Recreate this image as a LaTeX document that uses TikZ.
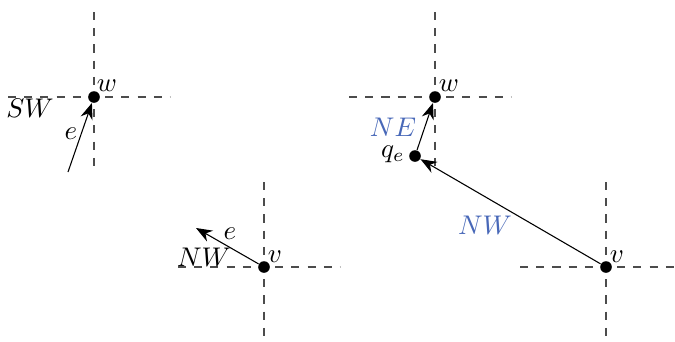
\documentclass[tikz,border=0pt]{standalone}
\usepackage{xcolor}
\usepackage{tikz}
\usetikzlibrary{arrows.meta, calc}
\usepackage{amsmath, amssymb}
\definecolor{dirblue}{RGB}{72,104,184}

\begin{document}
\begin{tikzpicture}[x=0.3704pt, y=-0.3704pt,
	dot/.style={circle, fill=black, inner sep=0pt, minimum size=4.3pt},
	cross/.style={black!70, dashed},
	edge/.style={-{Stealth[length=6pt, width=4.6pt]}},
	dirlabel/.style={text=dirblue}]
	\useasboundingbox (0,0) rectangle (675,341);
	
	% Dashed quadrant lines through every vertex
	\foreach \px/\py in {94/97, 264/267, 435/97, 606/267} {
		\draw[cross] (\px,\py-85) -- (\px,\py+75);
		\draw[cross] (\px-86,\py) -- (\px+76,\py);
	}
	
	% Left part: w with e coming in from SW, v with e leaving towards NW
	\node[dot] (w1) at (94,97) {};
	\node[dot] (v1) at (264,267) {};
	\coordinate (e1start) at (68,172);
	\coordinate (e2end) at (196,228);
	\draw[edge] (e1start) -- (w1);
	\draw[edge] (v1) -- (e2end);
	
	\node (w1lab) at (107,86) {$w$};
	\node (v1lab) at (275,257) {$v$};
	\node (e1lab) at (71,134) {$e$};
	\node (e2lab) at (230,234) {$e$};
	\node (swlab) at (30,108) {$SW$};
	\node (nwlab) at (204,257) {$NW$};
	
	% Right part: v to q_e to w
	\node[dot] (w2) at (435,97) {};
	\node[dot] (q2) at (415,156) {};
	\node[dot] (v2) at (606,267) {};
	\draw[edge] (v2) -- (q2);
	\draw[edge] (q2) -- (w2);
	
	\node (w2lab) at (449,86) {$w$};
	\node (v2lab) at (617,257) {$v$};
	\node (qlab) at (393,154) {$q_e$};
	\node[dirlabel] (nelab) at (393,127) {$NE$};
	\node[dirlabel] (nw2lab) at (485,225) {$NW$};
\end{tikzpicture}
\end{document}
